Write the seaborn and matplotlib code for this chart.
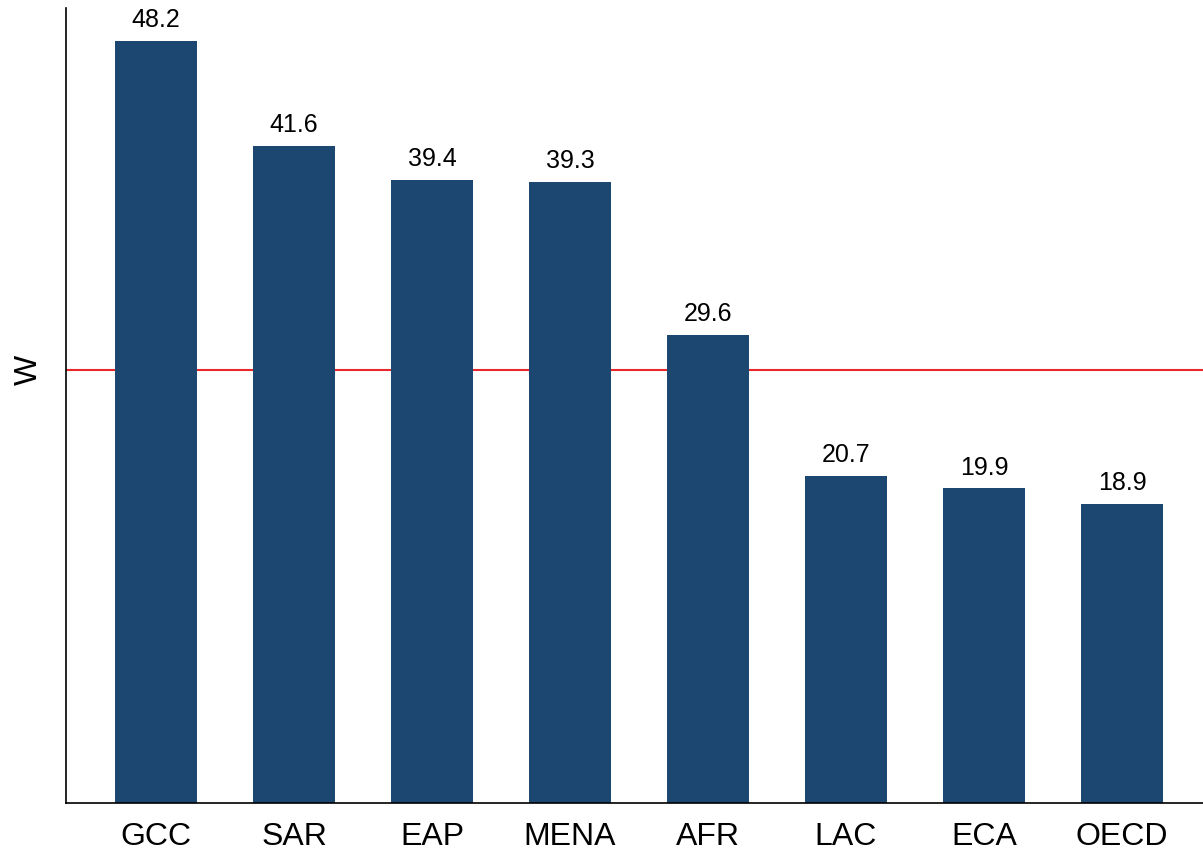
import pandas as pd
import matplotlib.pyplot as plt
import seaborn as sns

regions = ["GCC", "SAR", "EAP", "MENA", "AFR", "LAC", "ECA", "OECD"]
values = [48.2, 41.6, 39.4, 39.3, 29.6, 20.7, 19.9, 18.9]
w_level = 27.4

BAR_COLOR = "#1c4770"

sns.set_theme(style="white")
plt.rcParams['font.family'] = ['Liberation Sans', 'DejaVu Sans']

df = pd.DataFrame({"region": regions, "value": values})

fig = plt.figure(figsize=(12.03, 8.52), dpi=100)
ax = fig.add_axes([0.0549, 0.0575, 0.9451, 0.9331])

sns.barplot(data=df, x="region", y="value", color=BAR_COLOR, width=0.59,
            saturation=1, linewidth=0, ax=ax)

# reference level, drawn behind the bars
ax.axhline(w_level, color="#e8282b", linewidth=1.5, zorder=0.5)

for i, v in enumerate(values):
    ax.annotate(f"{v:.1f}", (i, v), xytext=(0, 10), textcoords="offset points",
                ha="center", va="baseline", fontsize=18, color="black")

ax.set_xlim(-0.652, 7.587)
ax.set_ylim(0, 50.3)
ax.set_yticks([w_level])
ax.set_yticklabels(["W"], rotation=90, va="center", fontsize=23, color="black")
ax.set_xlabel("")
ax.set_ylabel("")
ax.tick_params(axis="x", length=0, labelsize=23, labelcolor="black", pad=14)
ax.tick_params(axis="y", length=10, width=1.2, color="#333333", pad=6)

sns.despine(ax=ax)
for s in ["left", "bottom"]:
    ax.spines[s].set_color("black")
    ax.spines[s].set_linewidth(1.2)

fig.savefig("out.png", dpi=100)
